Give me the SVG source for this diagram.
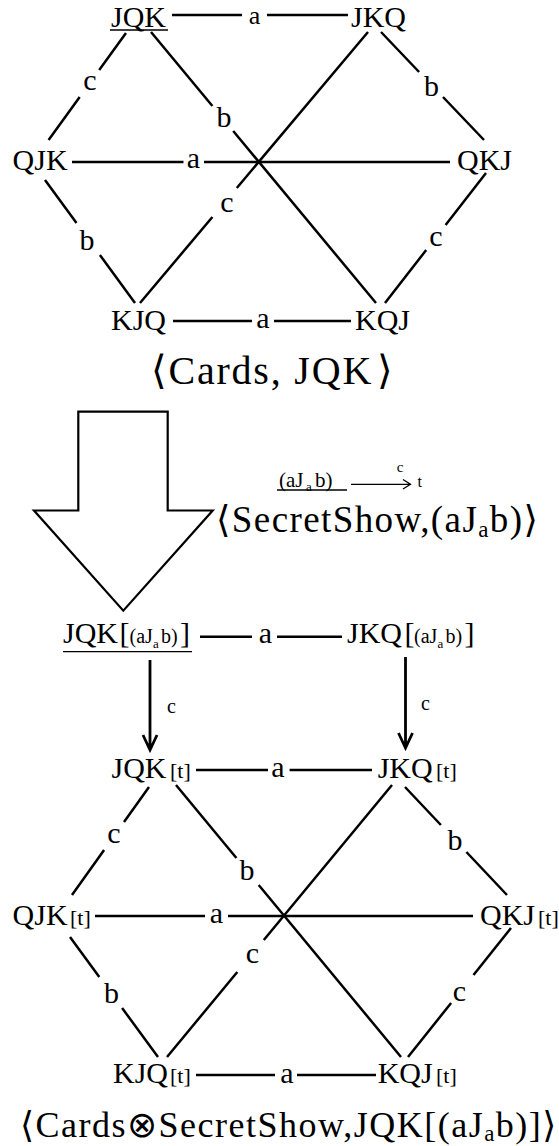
<svg xmlns="http://www.w3.org/2000/svg" width="559" height="1146" viewBox="0 0 559 1146">
<style>
text{font-family:"Liberation Serif","Times New Roman",serif;fill:#000}
.n{font-size:30px}
.l{font-size:30px;text-anchor:middle}
.t{font-size:22px}
.s{font-size:20px}
.ss{font-size:13px}
.br{font-family:"DejaVu Serif","DejaVu Sans",serif}
.e{stroke:#000;stroke-width:2.5;fill:none}
.u{stroke:#000;stroke-width:1.3;fill:none}
.ar{stroke:#000;stroke-width:2.8;fill:none}
</style>
<rect width="559" height="1146" fill="#fff"/>

<g id="connectors">
  <!-- top hexagon -->
  <path class="e" d="M172 15H242M267 15H348"/>
  <path class="e" d="M72 162H183.5M204 162H450"/>
  <path class="e" d="M173 321H252M274 321H351"/>
  <path class="e" d="M126 33L99.2 70M79.7 97L48.6 140"/>
  <path class="e" d="M151 32L212.4 106M233.2 131L376 303"/>
  <path class="e" d="M368 32L236.8 188M212.4 217L140 303"/>
  <path class="e" d="M381 32L419.1 72M443 97L484 140"/>
  <path class="e" d="M45 180L76.5 223M99.9 255L135 303"/>
  <path class="e" d="M486 173L445.6 225M426.2 250L385 303"/>
  <text class="l" x="254.5" y="23.5" style="font-size:26px">a</text>
  <text class="l" x="193.5" y="168">a</text>
  <text class="l" x="263" y="328">a</text>
  <text class="l" x="90" y="90">c</text>
  <text class="l" x="224" y="127">b</text>
  <text class="l" x="227" y="212">c</text>
  <text class="l" x="431.5" y="96">b</text>
  <text class="l" x="87" y="250">b</text>
  <text class="l" x="436" y="246">c</text>

  <!-- big transition arrow -->
  <path stroke="#000" stroke-width="2.2" fill="none" stroke-linejoin="miter" d="M78.3 411.7H167.7V510.5H212.7L123.3 610.7L34 510.5H78.3Z"/>

  <!-- small SecretShow arrow -->
  <path class="u" d="M351 484.3H410M403 479.5L410.5 484.3L403 489"/>
  <text x="400" y="472" style="font-size:15px;text-anchor:middle">c</text>

  <!-- second section -->
  <path class="e" d="M200 636.7H252M277 636.7H342"/>
  <text class="l" x="265.5" y="643">a</text>
  <path class="ar" d="M150 660V750M143 735L150 750L157 735"/>
  <path class="ar" d="M405.5 657V748M398.5 733L405.5 748L412.5 733"/>
  <text x="171.5" y="713" style="font-size:20px;text-anchor:middle">c</text>
  <text x="425.5" y="710" style="font-size:20px;text-anchor:middle">c</text>

  <!-- bottom hexagon -->
  <path class="e" d="M196 770H268M289.6 770H372"/>
  <path class="e" d="M149 787L124 822M104.1 850L72 895"/>
  <path class="e" d="M176 785L236.4 858M258.7 885L401 1057"/>
  <path class="e" d="M392 785L263.8 940M237.3 972L167 1057"/>
  <path class="e" d="M405 787L440.9 825M466.4 852L507 895"/>
  <path class="e" d="M95 916H205M228 916H473"/>
  <path class="e" d="M70 937L99.3 977M122.1 1008L158 1057"/>
  <path class="e" d="M511 928L473.5 975M451.1 1003L408 1057"/>
  <path class="e" d="M196 1075H275M297 1075H376"/>
  <text class="l" x="278" y="777">a</text>
  <text class="l" x="114" y="843">c</text>
  <text class="l" x="247" y="880">b</text>
  <text class="l" x="252.5" y="963">c</text>
  <text class="l" x="455" y="850">b</text>
  <text class="l" x="216.5" y="923">a</text>
  <text class="l" x="111.5" y="1003">b</text>
  <text class="l" x="459.5" y="1001">c</text>
  <text class="l" x="286.8" y="1083">a</text>
</g>

<!-- top nodes -->
<g id="n-JQK"><text class="n" x="111" y="27">JQK</text><path class="u" d="M110 30H168"/></g>
<g id="n-JKQ"><text class="n" x="351" y="27">JKQ</text></g>
<g id="n-QJK"><text class="n" x="12.6" y="170">QJK</text></g>
<g id="n-QKJ"><text class="n" x="457" y="170">QKJ</text></g>
<g id="n-KJQ"><text class="n" x="111" y="330">KJQ</text></g>
<g id="n-KQJ"><text class="n" x="355" y="330">KQJ</text></g>
<g id="title-cards"><text x="151" y="384" style="font-size:40px;letter-spacing:1.8px"><tspan class="br">⟨</tspan>Cards, JQK<tspan class="br" dx="4">⟩</tspan></text></g>

<!-- SecretShow model -->
<g id="s-aJab"><text x="279" y="487" style="font-size:21px">(aJ<tspan x="306" dy="4" style="font-size:13px">a</tspan><tspan x="315" dy="-4">b)</tspan></text><path class="u" d="M277 490H347"/></g>
<g id="s-t"><text x="417.5" y="487" style="font-size:16px">t</text></g>
<g id="title-secret"><text x="216" y="531.7" style="font-size:37px;letter-spacing:1.4px"><tspan class="br">⟨</tspan>SecretShow,(aJ<tspan dy="5" style="font-size:23px">a</tspan><tspan dy="-5">b)</tspan><tspan class="br">⟩</tspan></text></g>

<!-- product nodes -->
<g id="p-JQK-aJab"><text class="n" x="63" y="643">JQK<tspan x="119.5">[</tspan><tspan class="s" x="129.5">(aJ</tspan><tspan class="ss" x="153" dy="5">a</tspan><tspan class="s" x="161" dy="-5">b)</tspan><tspan x="180">]</tspan></text><path class="u" d="M63 651.7H192"/></g>
<g id="p-JKQ-aJab"><text class="n" x="347" y="643">JKQ<tspan x="404.5">[</tspan><tspan class="s" x="414">(aJ</tspan><tspan class="ss" x="437.5" dy="5">a</tspan><tspan class="s" x="445.5" dy="-5">b)</tspan><tspan x="464.5">]</tspan></text></g>
<g id="p-JQK-t"><text class="n" x="111.5" y="778">JQK<tspan class="t" x="170">[t]</tspan></text></g>
<g id="p-JKQ-t"><text class="n" x="377.7" y="778">JKQ<tspan class="t" x="436">[t]</tspan></text></g>
<g id="p-QJK-t"><text class="n" x="12.6" y="925">QJK<tspan class="t" x="70">[t]</tspan></text></g>
<g id="p-QKJ-t"><text class="n" x="480" y="925">QKJ<tspan class="t" x="538">[t]</tspan></text></g>
<g id="p-KJQ-t"><text class="n" x="113" y="1083">KJQ<tspan class="t" x="170">[t]</tspan></text></g>
<g id="p-KQJ-t"><text class="n" x="377.7" y="1083">KQJ<tspan class="t" x="436">[t]</tspan></text></g>
<g id="title-product"><text x="20" y="1136.7" style="font-size:36px;letter-spacing:1.5px"><tspan class="br">⟨</tspan>Cards⊗SecretShow,JQK[(aJ<tspan dy="4" style="font-size:23px">a</tspan><tspan dy="-4">b)]</tspan><tspan class="br">⟩</tspan></text></g>
</svg>
